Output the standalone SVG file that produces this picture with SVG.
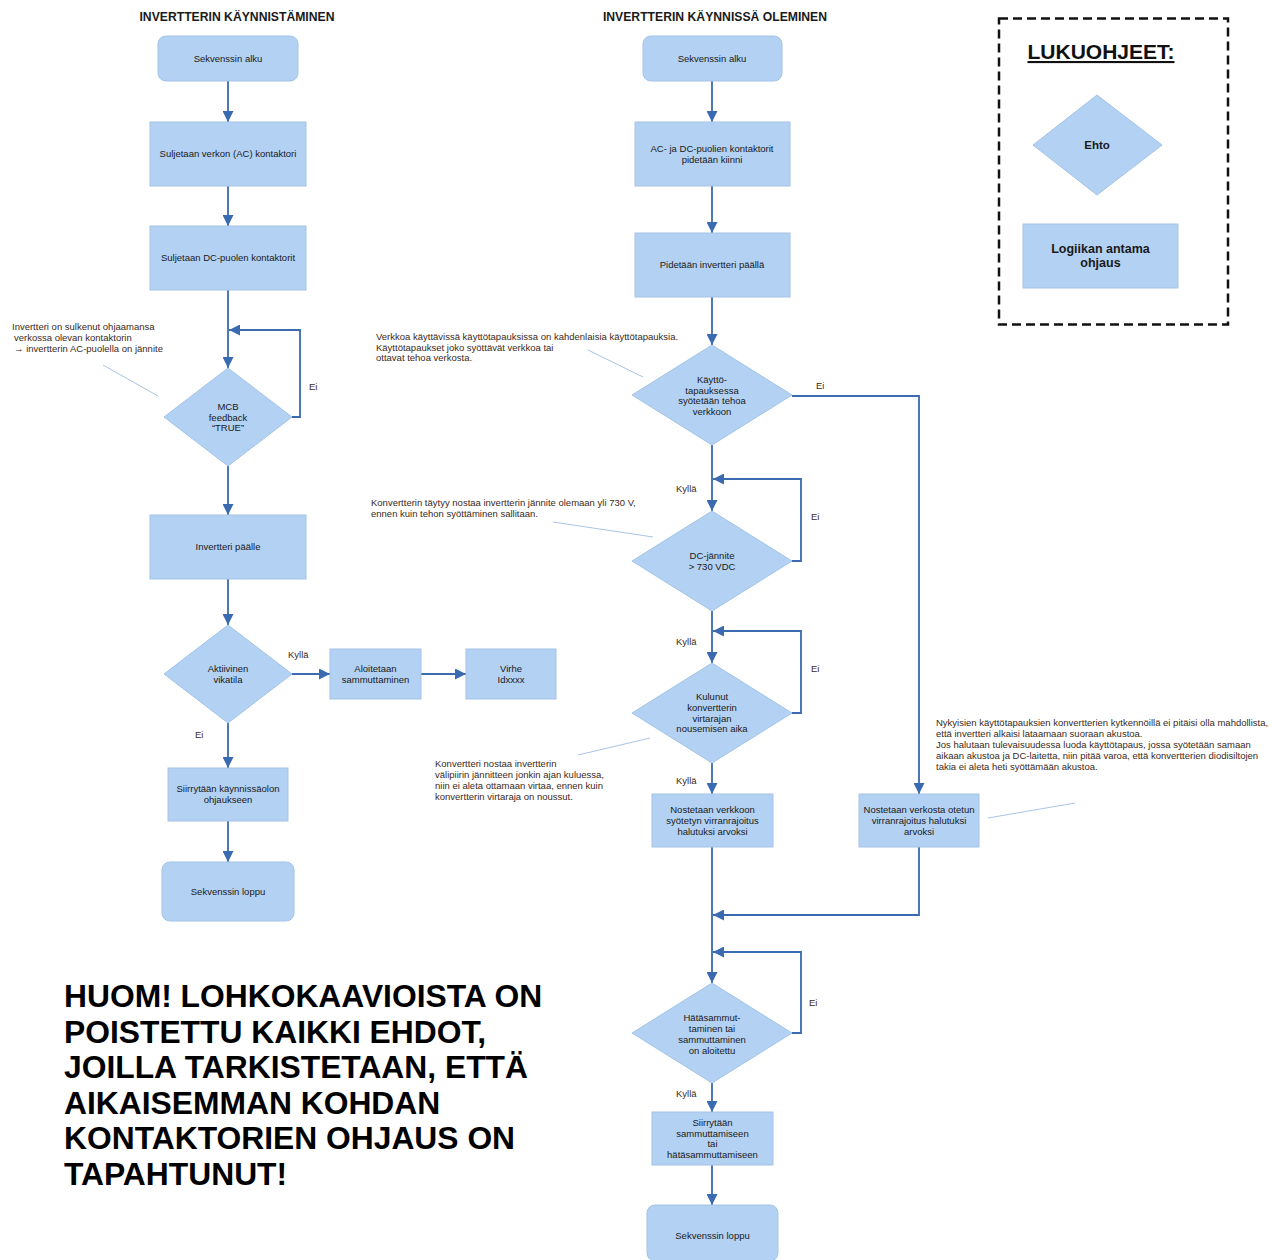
<svg xmlns="http://www.w3.org/2000/svg" width="1272" height="1260" viewBox="0 0 1272 1260">
<defs>
<marker id="ah" viewBox="0 0 10 10" refX="10" refY="5" markerWidth="11" markerHeight="11" markerUnits="userSpaceOnUse" orient="auto">
<path d="M0,0 L10,5 L0,10 z" fill="#3a6ab0"/>
</marker>
<style>
.n{fill:#b3d1f3;stroke:#a3c3e6;stroke-width:1}
.t{font-family:"Liberation Sans",Arial,sans-serif;font-size:9.5px;fill:#1a1a1a;text-anchor:middle}
.ti{font-family:"Liberation Sans",Arial,sans-serif;font-size:12.2px;font-weight:bold;fill:#1a1a1a;text-anchor:middle}
.a{font-family:"Liberation Sans",Arial,sans-serif;font-size:9.5px;fill:#3b2a1a}
.l{font-family:"Liberation Sans",Arial,sans-serif;font-size:9.5px;fill:#3b2a1a}
.c{fill:none;stroke:#3a6ab0;stroke-width:1.8}
.ca{fill:none;stroke:#3a6ab0;stroke-width:1.8;marker-end:url(#ah)}
.an{fill:none;stroke:#a8c4e6;stroke-width:1}
.big{font-family:"Liberation Sans",Arial,sans-serif;font-size:31.8px;font-weight:bold;fill:#000}
</style>
</defs>
<rect width="1272" height="1260" fill="#ffffff"/>

<text class="ti" x="237" y="21">INVERTTERIN KÄYNNISTÄMINEN</text>
<text class="ti" x="715" y="21">INVERTTERIN KÄYNNISSÄ OLEMINEN</text>

<g id="connectors">
<path class="ca" d="M228 81 V122"/>
<path class="ca" d="M228 186 V226"/>
<path class="ca" d="M228 290 V368"/>
<path class="ca" d="M292 417 H300 V330 H229"/>
<path class="ca" d="M228 466 V515"/>
<path class="ca" d="M228 579 V625"/>
<path class="ca" d="M292 674 H330"/>
<path class="ca" d="M421 674 H466"/>
<path class="ca" d="M228 723 V768"/>
<path class="ca" d="M228 821 V862"/>

<path class="ca" d="M712 81 V122"/>
<path class="ca" d="M712 186 V233"/>
<path class="ca" d="M712 297 V345"/>
<path class="ca" d="M792 396 H919 V794"/>
<path class="ca" d="M712 445 V511"/>
<path class="ca" d="M792 561 H801 V479 H713"/>
<path class="ca" d="M712 611 V663"/>
<path class="ca" d="M792 713 H801 V631 H713"/>
<path class="ca" d="M712 763 V794"/>
<path class="ca" d="M712 847 V983"/>
<path class="ca" d="M919 847 V915 H713"/>
<path class="ca" d="M792 1033 H801 V952 H713"/>
<path class="ca" d="M712 1083 V1112"/>
<path class="ca" d="M712 1165 V1205"/>

<text class="l" x="309" y="390">Ei</text>
<text class="l" x="288" y="658">Kyllä</text>
<text class="l" x="195" y="738">Ei</text>
<text class="l" x="816" y="389">Ei</text>
<text class="l" x="676" y="492">Kyllä</text>
<text class="l" x="811" y="520">Ei</text>
<text class="l" x="676" y="645">Kyllä</text>
<text class="l" x="811" y="672">Ei</text>
<text class="l" x="676" y="784">Kyllä</text>
<text class="l" x="809" y="1006">Ei</text>
<text class="l" x="676" y="1097">Kyllä</text>
</g>

<g id="annotations">
<path class="an" d="M103 365 L158 396"/>
<text class="a" x="12" y="330">Invertteri on sulkenut ohjaamansa</text>
<text class="a" x="14" y="341">verkossa olevan kontaktorin</text>
<text class="a" x="14" y="352">→ invertterin AC-puolella on jännite</text>

<path class="an" d="M588 350 L643 377"/>
<text class="a" x="376" y="340">Verkkoa käyttävissä käyttötapauksissa on kahdenlaisia käyttötapauksia.</text>
<text class="a" x="376" y="351">Käyttötapaukset joko syöttävät verkkoa tai</text>
<text class="a" x="376" y="361">ottavat tehoa verkosta.</text>

<path class="an" d="M553 522 L653 537"/>
<text class="a" x="371" y="506">Konvertterin täytyy nostaa invertterin jännite olemaan yli 730 V,</text>
<text class="a" x="371" y="517">ennen kuin tehon syöttäminen sallitaan.</text>

<path class="an" d="M578 755 L650 738"/>
<text class="a" x="435" y="767">Konvertteri nostaa invertterin</text>
<text class="a" x="435" y="778">välipiirin jännitteen jonkin ajan kuluessa,</text>
<text class="a" x="435" y="789">niin ei aleta ottamaan virtaa, ennen kuin</text>
<text class="a" x="435" y="800">konvertterin virtaraja on noussut.</text>

<path class="an" d="M988 818 L1075 803"/>
<text class="a" x="936" y="726">Nykyisien käyttötapauksien konvertterien kytkennöillä ei pitäisi olla mahdollista,</text>
<text class="a" x="936" y="737">että invertteri alkaisi lataamaan suoraan akustoa.</text>
<text class="a" x="936" y="748">Jos halutaan tulevaisuudessa luoda käyttötapaus, jossa syötetään samaan</text>
<text class="a" x="936" y="759">aikaan akustoa ja DC-laitetta, niin pitää varoa, että konvertterien diodisiltojen</text>
<text class="a" x="936" y="770">takia ei aleta heti syöttämään akustoa.</text>
</g>

<g id="l-start"><rect class="n" x="158" y="36" width="140" height="45" rx="8"/><text class="t" x="228" y="62">Sekvenssin alku</text></g>
<g id="l-ac"><rect class="n" x="150" y="122" width="156" height="64"/><text class="t" x="228" y="157">Suljetaan verkon (AC) kontaktori</text></g>
<g id="l-dc"><rect class="n" x="150" y="226" width="156" height="64"/><text class="t" x="228" y="261">Suljetaan DC-puolen kontaktorit</text></g>
<g id="l-mcb"><path class="n" d="M228 368 L292 417 L228 466 L164 417 Z"/><text class="t" x="228" y="410">MCB</text><text class="t" x="228" y="420.5">feedback</text><text class="t" x="228" y="431">“TRUE”</text></g>
<g id="l-inv"><rect class="n" x="150" y="515" width="156" height="64"/><text class="t" x="228" y="550">Invertteri päälle</text></g>
<g id="l-vika"><path class="n" d="M228 625 L292 674 L228 723 L164 674 Z"/><text class="t" x="228" y="672">Aktiivinen</text><text class="t" x="228" y="683">vikatila</text></g>
<g id="l-sammutus"><rect class="n" x="330" y="649" width="91" height="50"/><text class="t" x="375.5" y="672">Aloitetaan</text><text class="t" x="375.5" y="683">sammuttaminen</text></g>
<g id="l-virhe"><rect class="n" x="466" y="649" width="90" height="50"/><text class="t" x="511" y="672">Virhe</text><text class="t" x="511" y="683">Idxxxx</text></g>
<g id="l-siirto"><rect class="n" x="168" y="768" width="120" height="53"/><text class="t" x="228" y="792">Siirrytään käynnissäolon</text><text class="t" x="228" y="803">ohjaukseen</text></g>
<g id="l-end"><rect class="n" x="162" y="862" width="132" height="59" rx="8"/><text class="t" x="228" y="895">Sekvenssin loppu</text></g>

<g id="m-start"><rect class="n" x="643" y="36" width="139" height="45" rx="8"/><text class="t" x="712" y="62">Sekvenssin alku</text></g>
<g id="m-kont"><rect class="n" x="635" y="122" width="155" height="64"/><text class="t" x="712" y="152">AC- ja DC-puolien kontaktorit</text><text class="t" x="712" y="163">pidetään kiinni</text></g>
<g id="m-inv"><rect class="n" x="635" y="233" width="155" height="64"/><text class="t" x="712" y="268">Pidetään invertteri päällä</text></g>
<g id="m-kaytto"><path class="n" d="M712 345 L792 395 L712 445 L632 395 Z"/><text class="t" x="712" y="383">Käyttö-</text><text class="t" x="712" y="393.5">tapauksessa</text><text class="t" x="712" y="404">syötetään tehoa</text><text class="t" x="712" y="414.5">verkkoon</text></g>
<g id="m-dc"><path class="n" d="M712 511 L792 561 L712 611 L632 561 Z"/><text class="t" x="712" y="559">DC-jännite</text><text class="t" x="712" y="570">&gt; 730 VDC</text></g>
<g id="m-kulunut"><path class="n" d="M712 663 L792 713 L712 763 L632 713 Z"/><text class="t" x="712" y="700">Kulunut</text><text class="t" x="712" y="711">konvertterin</text><text class="t" x="712" y="721.5">virtarajan</text><text class="t" x="712" y="732">nousemisen aika</text></g>
<g id="m-nost1"><rect class="n" x="652" y="794" width="121" height="53"/><text class="t" x="712.5" y="813">Nostetaan verkkoon</text><text class="t" x="712.5" y="824">syötetyn virranrajoitus</text><text class="t" x="712.5" y="834.5">halutuksi arvoksi</text></g>
<g id="m-nost2"><rect class="n" x="859" y="794" width="120" height="53"/><text class="t" x="919" y="813">Nostetaan verkosta otetun</text><text class="t" x="919" y="824">virranrajoitus halutuksi</text><text class="t" x="919" y="834.5">arvoksi</text></g>
<g id="m-hata"><path class="n" d="M712 983 L792 1033 L712 1083 L632 1033 Z"/><text class="t" x="712" y="1021">Hätäsammut-</text><text class="t" x="712" y="1032">taminen tai</text><text class="t" x="712" y="1043">sammuttaminen</text><text class="t" x="712" y="1053.5">on aloitettu</text></g>
<g id="m-siirto"><rect class="n" x="652" y="1112" width="121" height="53"/><text class="t" x="712.5" y="1126">Siirrytään</text><text class="t" x="712.5" y="1136.5">sammuttamiseen</text><text class="t" x="712.5" y="1147">tai</text><text class="t" x="712.5" y="1158">hätäsammuttamiseen</text></g>
<g id="m-end"><rect class="n" x="647" y="1205" width="131" height="56" rx="8"/><text class="t" x="712.5" y="1239">Sekvenssin loppu</text></g>

<g id="legend">
<rect x="999" y="18.5" width="229" height="306" fill="none" stroke="#111" stroke-width="2.5" stroke-dasharray="9,5"/>
<text x="1101" y="59" font-family="'Liberation Sans',Arial,sans-serif" font-size="21px" font-weight="bold" fill="#111" text-anchor="middle" text-decoration="underline">LUKUOHJEET:</text>
<g id="legend-ehto"><path class="n" d="M1097 95 L1162 145 L1097 195 L1033 145 Z"/><text x="1097" y="149" font-family="'Liberation Sans',Arial,sans-serif" font-size="11.5px" font-weight="bold" fill="#1a1a1a" text-anchor="middle">Ehto</text></g>
<g id="legend-ohjaus"><rect class="n" x="1023" y="224" width="155" height="64"/><text x="1100.5" y="253" font-family="'Liberation Sans',Arial,sans-serif" font-size="12.5px" font-weight="bold" fill="#1a1a1a" text-anchor="middle">Logiikan antama</text><text x="1100.5" y="267" font-family="'Liberation Sans',Arial,sans-serif" font-size="12.5px" font-weight="bold" fill="#1a1a1a" text-anchor="middle">ohjaus</text></g>
</g>

<g id="note">
<text class="big" x="64" y="1007">HUOM! LOHKOKAAVIOISTA ON</text>
<text class="big" x="64" y="1042.5">POISTETTU KAIKKI EHDOT,</text>
<text class="big" x="64" y="1078">JOILLA TARKISTETAAN, ETTÄ</text>
<text class="big" x="64" y="1113.5">AIKAISEMMAN KOHDAN</text>
<text class="big" x="64" y="1149">KONTAKTORIEN OHJAUS ON</text>
<text class="big" x="64" y="1184.5">TAPAHTUNUT!</text>
</g>
</svg>
